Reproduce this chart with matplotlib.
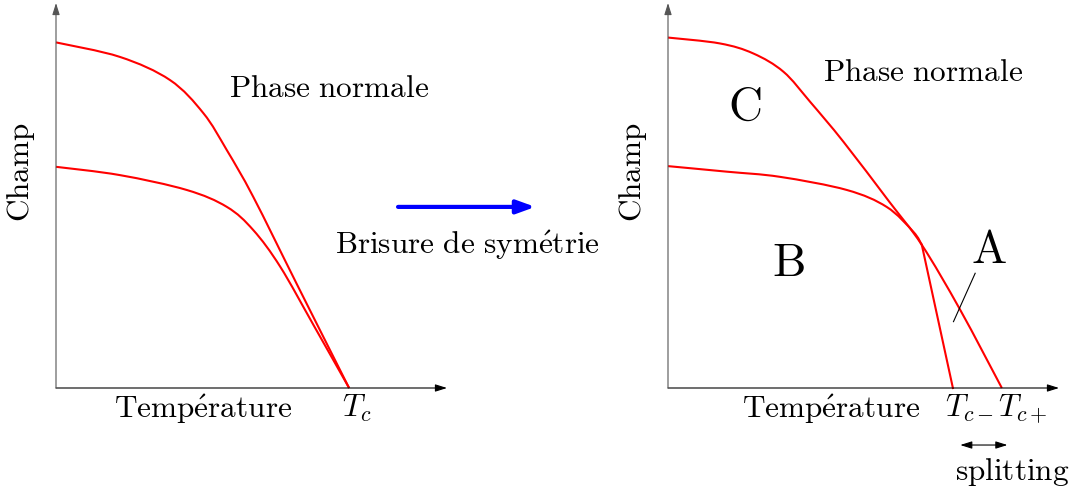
import matplotlib
matplotlib.use("Agg")
import matplotlib.pyplot as plt
from matplotlib.path import Path
from matplotlib.patches import PathPatch

plt.rcParams['mathtext.fontset'] = 'cm'
plt.rcParams['font.family'] = ['DejaVu Serif']

# temperature in units of Tc, field in units of H0
t_up_left = [0.0, 0.218, 0.389, 0.503, 0.583, 0.673, 0.822, 1.0]
h_up_left = [1.0, 0.958, 0.891, 0.795, 0.688, 0.553, 0.300, 0.0]
t_low_left = [0.0, 0.218, 0.446, 0.583, 0.673, 0.765, 0.880, 1.0]
h_low_left = [0.640, 0.616, 0.573, 0.524, 0.457, 0.351, 0.180, 0.0]

t_up_right = [0.0, 0.177, 0.291, 0.394, 0.485, 0.599, 0.754, 0.866, 0.997, 1.139]
h_up_right = [1.014, 0.997, 0.968, 0.915, 0.828, 0.712, 0.540, 0.414, 0.226, 0.0]
t_low_right = [0.0, 0.200, 0.382, 0.610, 0.746, 0.837, 0.866]
h_low_right = [0.642, 0.626, 0.611, 0.573, 0.524, 0.452, 0.414]
# straight branch from the crossing point down to Tc-
t_branch = [0.866, 0.972]
h_branch = [0.414, 0.0]

tc = 1.0
tc_minus = 0.972
tc_plus = 1.139

RED = '#ff0000'
FS = 22.5


def smooth_curve(ax, xs, ys, **kw):
    # catmull-rom through the read points, drawn as bezier segments
    px = [xs[0]] + list(xs) + [xs[-1]]
    py = [ys[0]] + list(ys) + [ys[-1]]
    verts = [(xs[0], ys[0])]
    codes = [Path.MOVETO]
    for i in range(1, len(px) - 2):
        c1 = (px[i] + (px[i + 1] - px[i - 1]) / 6, py[i] + (py[i + 1] - py[i - 1]) / 6)
        c2 = (px[i + 1] - (px[i + 2] - px[i]) / 6, py[i + 1] - (py[i + 2] - py[i]) / 6)
        verts += [c1, c2, (px[i + 1], py[i + 1])]
        codes += [Path.CURVE4] * 3
    ax.add_patch(PathPatch(Path(verts, codes), fill=False, clip_on=False, **kw))


def setup_axes(ax):
    ax.set_xlim(0, 1.334)
    ax.set_ylim(0, 1.114)
    ax.axis('off')
    # axes drawn as arrows
    ax.annotate('', xy=(1, 0), xytext=(0, 0), xycoords='axes fraction',
                arrowprops=dict(arrowstyle='-|>,head_length=0.7,head_width=0.22',
                                color='k', lw=0.8, mutation_scale=10, shrinkA=0, shrinkB=0))
    ax.annotate('', xy=(0, 1), xytext=(0, 0), xycoords='axes fraction',
                arrowprops=dict(arrowstyle='-|>,head_length=0.7,head_width=0.22',
                                color='#555555', lw=0.8, mutation_scale=10, shrinkA=0, shrinkB=0))
    ax.text(-0.12, 0.625, r'$\mathrm{Champ}$', fontsize=FS, rotation=90,
            ha='center', va='center')


fig = plt.figure(figsize=(10.72, 4.94), dpi=100)
ax1 = fig.add_axes([56 / 1072, 106 / 494, 391 / 1072, 385 / 494])
ax2 = fig.add_axes([668 / 1072, 106 / 494, 391 / 1072, 385 / 494])

# left panel
setup_axes(ax1)
smooth_curve(ax1, t_up_left, h_up_left, edgecolor=RED, lw=1.5)
smooth_curve(ax1, t_low_left, h_low_left, edgecolor=RED, lw=1.5)
ax1.text(0.932, 0.868, r'$\mathrm{Phase\ normale}$', fontsize=FS, ha='center', va='center')
ax1.text(0.502, -0.06, r'$\mathrm{Temp\acute{e}rature}$', fontsize=FS, ha='center', va='center')
ax1.text(tc + 0.027, -0.06, r'$T_c$', fontsize=FS, ha='center', va='center')

# blue arrow between panels
ax1.annotate('', xy=(1.635, 0.524), xytext=(1.167, 0.524), annotation_clip=False,
             arrowprops=dict(arrowstyle='-|>,head_length=0.55,head_width=0.2',
                             color='#0000ff', lw=3.0, mutation_scale=20, shrinkA=0, shrinkB=0))
ax1.text(1.403, 0.414, r'$\mathrm{Brisure\ de\ sym\acute{e}trie}$', fontsize=FS,
         ha='center', va='center')

# right panel
setup_axes(ax2)
smooth_curve(ax2, t_up_right, h_up_right, edgecolor=RED, lw=1.5)
smooth_curve(ax2, t_low_right, h_low_right, edgecolor=RED, lw=1.5)
ax2.plot(t_branch, h_branch, color=RED, lw=1.5, clip_on=False)
ax2.text(0.870, 0.914, r'$\mathrm{Phase\ normale}$', fontsize=FS, ha='center', va='center')
ax2.text(0.556, -0.06, r'$\mathrm{Temp\acute{e}rature}$', fontsize=FS, ha='center', va='center')
ax2.text(tc_minus + 0.055, -0.06, r'$T_{c-}$', fontsize=FS, ha='center', va='center')
ax2.text(tc_plus + 0.07, -0.06, r'$T_{c+}$', fontsize=FS, ha='center', va='center')
ax2.text(0.263, 0.813, r'$\mathrm{C}$', fontsize=34, ha='center', va='center')
ax2.text(0.410, 0.362, r'$\mathrm{B}$', fontsize=34, ha='center', va='center')
ax2.text(1.096, 0.399, r'$\mathrm{A}$', fontsize=34, ha='center', va='center')
ax2.plot([1.048, 0.974], [0.332, 0.192], color='k', lw=0.8, clip_on=False)

ax2.annotate('', xy=(1.158, -0.165), xytext=(0.997, -0.165), annotation_clip=False,
             arrowprops=dict(arrowstyle='<|-|>,head_length=0.7,head_width=0.22',
                             color='k', lw=0.8, mutation_scale=10, shrinkA=0, shrinkB=0))
ax2.text(1.174, -0.243, r'$\mathrm{splitting}$', fontsize=FS, ha='center', va='center')

fig.savefig('out.png', dpi=100)
